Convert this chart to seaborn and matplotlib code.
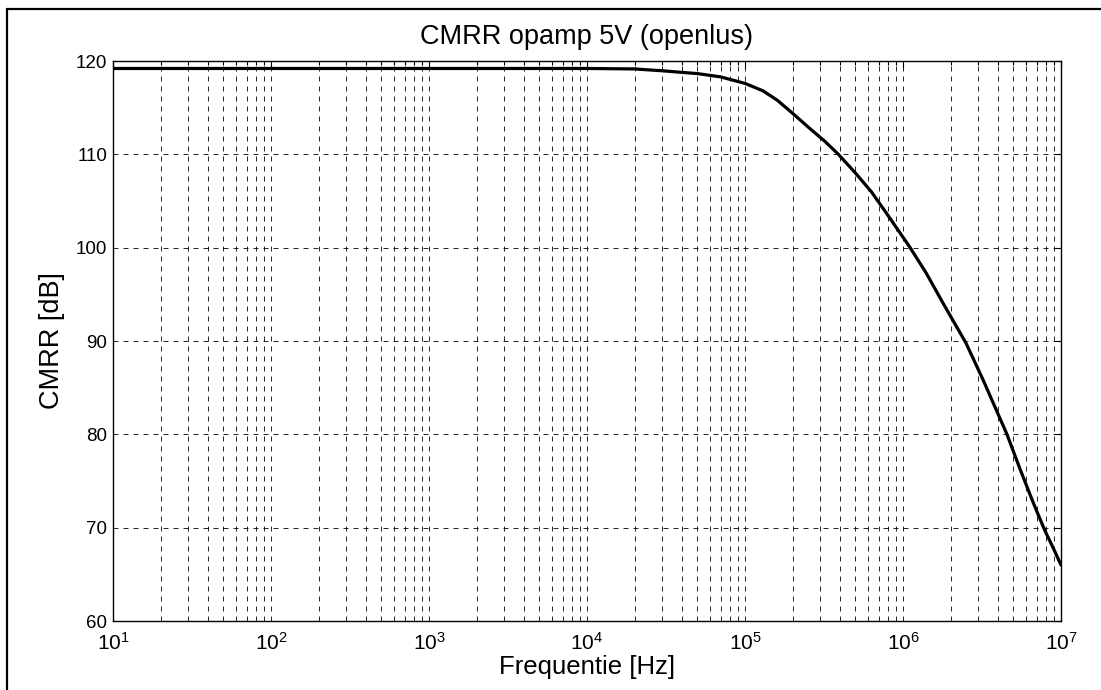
import matplotlib
matplotlib.use("Agg")
import matplotlib.pyplot as plt
import seaborn as sns
import numpy as np
from matplotlib.lines import Line2D
from matplotlib.ticker import LogLocator, FixedLocator, FixedFormatter

# Data
freq_hz = [10, 100, 1e3, 1e4, 2e4, 3e4, 5e4, 7e4, 1e5, 1.3e5, 1.6e5, 2e5, 2.6e5,
           3.2e5, 3.9e5, 5e5, 6.3e5, 8e5, 1.1e6, 1.4e6, 1.8e6, 2.5e6, 3.2e6,
           4.55e6, 5.5e6, 6.7e6, 7.9e6, 9e6, 1e7]
cmrr_db = [119.2, 119.2, 119.2, 119.2, 119.15, 118.95, 118.65, 118.3, 117.6, 116.8,
           115.8, 114.4, 112.7, 111.4, 110.0, 108.0, 106.0, 103.5, 100.1, 97.3,
           94.0, 89.8, 85.9, 80.0, 76.3, 72.6, 69.7, 67.7, 66.0]
y_ticks = [60, 70, 80, 90, 100, 110, 120]
x_ticks = [1e1, 1e2, 1e3, 1e4, 1e5, 1e6, 1e7]
x_tick_labels = [r"$10^{1}$", r"$10^{2}$", r"$10^{3}$", r"$10^{4}$",
                 r"$10^{5}$", r"$10^{6}$", r"$10^{7}$"]

sns.set_style("white")
plt.rcParams["font.family"] = ["Liberation Sans", "DejaVu Sans"]
plt.rcParams["mathtext.fontset"] = "custom"
plt.rcParams["mathtext.rm"] = "Liberation Sans"
plt.rcParams["mathtext.it"] = "Liberation Sans:italic"
plt.rcParams["mathtext.bf"] = "Liberation Sans:bold"

fig = plt.figure(figsize=(11.01, 6.90), dpi=100)
ax = fig.add_axes([113 / 1101, 1 - 621 / 690, (1061 - 113) / 1101, (621 - 61) / 690])
ax.set_xscale("log")

sns.lineplot(x=freq_hz, y=cmrr_db, ax=ax, color="black", linewidth=2.3, sort=True)

ax.set_xlim(1e1, 1e7)
ax.set_ylim(60, 120)
ax.yaxis.set_major_locator(FixedLocator(y_ticks))
ax.xaxis.set_major_locator(FixedLocator(x_ticks))
ax.xaxis.set_major_formatter(FixedFormatter(x_tick_labels))
ax.xaxis.set_minor_locator(LogLocator(base=10, subs=np.arange(2, 10), numticks=20))

grid_kw = dict(color="black", linestyle=(0, (6, 6)), linewidth=0.6)
ax.grid(True, which="major", axis="both", **grid_kw)
ax.grid(True, which="minor", axis="x", **grid_kw)

ax.tick_params(axis="both", which="both", direction="in", top=True, right=True,
               colors="black", width=0.8)
ax.tick_params(axis="both", which="major", length=5)
ax.tick_params(axis="y", which="major", pad=4, labelsize=13.5)
ax.tick_params(axis="x", which="minor", length=3)
ax.tick_params(axis="x", which="major", pad=8, labelsize=15)

for s in ax.spines.values():
    s.set_color("black")
    s.set_linewidth(1.0)
    s.set_visible(True)

ax.set_title("CMRR opamp 5V (openlus)", fontsize=19.5, pad=12, color="black")
ax.set_xlabel("Frequentie [Hz]", fontsize=18.5, labelpad=1, color="black")
ax.set_ylabel("CMRR [dB]", fontsize=19.5, labelpad=8, color="black")

# figure frame (left and top edges visible)
fig.add_artist(Line2D([7 / 1101, 7 / 1101], [0, 1 - 9 / 690], transform=fig.transFigure,
                      color="black", linewidth=1.6))
fig.add_artist(Line2D([7 / 1101, 1], [1 - 9 / 690, 1 - 9 / 690], transform=fig.transFigure,
                      color="black", linewidth=1.6))

fig.savefig("out.png", dpi=100, facecolor="white")
